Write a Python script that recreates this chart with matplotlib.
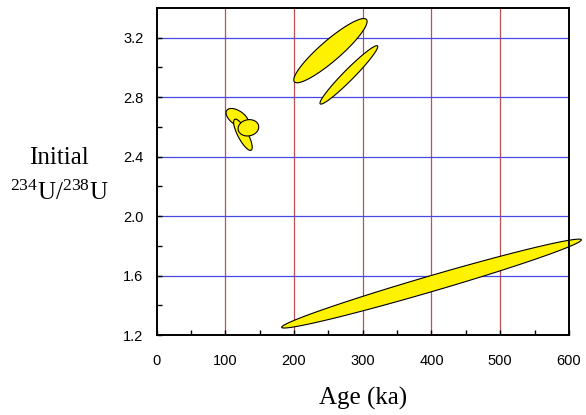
import numpy as np
import matplotlib
matplotlib.use("Agg")
import matplotlib.pyplot as plt
from matplotlib.patches import Polygon

plt.rcParams['mathtext.fontset'] = 'custom'
plt.rcParams['mathtext.rm'] = 'Liberation Serif'
plt.rcParams['mathtext.it'] = 'Liberation Serif'

# Ellipse data: centre age (ka), centre initial 234U/238U, half-range in age,
# half-range in ratio, correlation
ell_names = ["A", "B", "C", "D", "E", "F"]
ell_cx = [117.7, 125.7, 133.7, 253.0, 279.8, 400.0]
ell_cy = [2.661, 2.547, 2.594, 3.113, 2.950, 1.546]
ell_sx = [16.5, 13.5, 15.0, 53.3, 42.0, 218.0]
ell_sy = [0.063, 0.105, 0.055, 0.216, 0.1965, 0.299]
ell_rho = [-0.53, -0.80, 0.10, 0.909, 0.967, 0.983]

x_ticks = [0, 100, 200, 300, 400, 500, 600]
y_ticks = [1.2, 1.6, 2.0, 2.4, 2.8, 3.2]
x_grid = [100, 200, 300, 400, 500]
y_grid = [1.6, 2.0, 2.4, 2.8, 3.2]

fig = plt.figure(figsize=(5.86, 4.15), dpi=100)
ax = fig.add_axes([156.5 / 586, 80 / 415, (569 - 156.5) / 586, (335 - 8) / 415])
ax.set_xlim(0, 600)
ax.set_ylim(1.2, 3.4)

for gx in x_grid:
    ax.axvline(gx, color='#bd5050', lw=0.9, zorder=1)
for gy in y_grid:
    ax.axhline(gy, color='#4848e6', lw=0.9, zorder=1)

t = np.linspace(0, 2 * np.pi, 200)
for cx, cy, sx, sy, r in zip(ell_cx, ell_cy, ell_sx, ell_sy, ell_rho):
    xs = cx + sx * np.cos(t)
    ys = cy + sy * (r * np.cos(t) + np.sqrt(1 - r ** 2) * np.sin(t))
    poly = Polygon(np.column_stack([xs, ys]), closed=True, facecolor='#fff200',
                   edgecolor='black', lw=0.8, zorder=3, clip_on=False)
    ax.add_patch(poly)

ax.set_xticks(x_ticks)
ax.set_xticks(np.arange(50, 600, 100), minor=True)
ax.set_yticks(y_ticks)
ax.set_yticks([1.4, 1.8, 2.2, 2.6, 3.0], minor=True)
ax.set_yticklabels([f"{v:.1f}" for v in y_ticks])
ax.tick_params(which='both', direction='in', top=False, right=False,
               length=3.5, width=1.0, labelsize=10.5,
               labelfontfamily='Liberation Sans')
ax.tick_params(axis='x', which='major', pad=14)
ax.tick_params(axis='y', which='major', pad=9.5)
for s in ax.spines.values():
    s.set_linewidth(1.4)
    s.set_zorder(5)

fig.text(362.7 / 586, 1 - 398 / 415, "Age (ka)", family='Liberation Serif',
         fontsize=18, ha='center', va='center')
fig.text(59 / 586, 1 - 158 / 415, "Initial", family='Liberation Serif',
         fontsize=18, ha='center', va='center')
fig.text(59 / 586, 1 - 193 / 415, r"$^{234}$U/$^{238}$U", family='Liberation Serif',
         fontsize=18, ha='center', va='center')

fig.savefig("out.png", dpi=100)
